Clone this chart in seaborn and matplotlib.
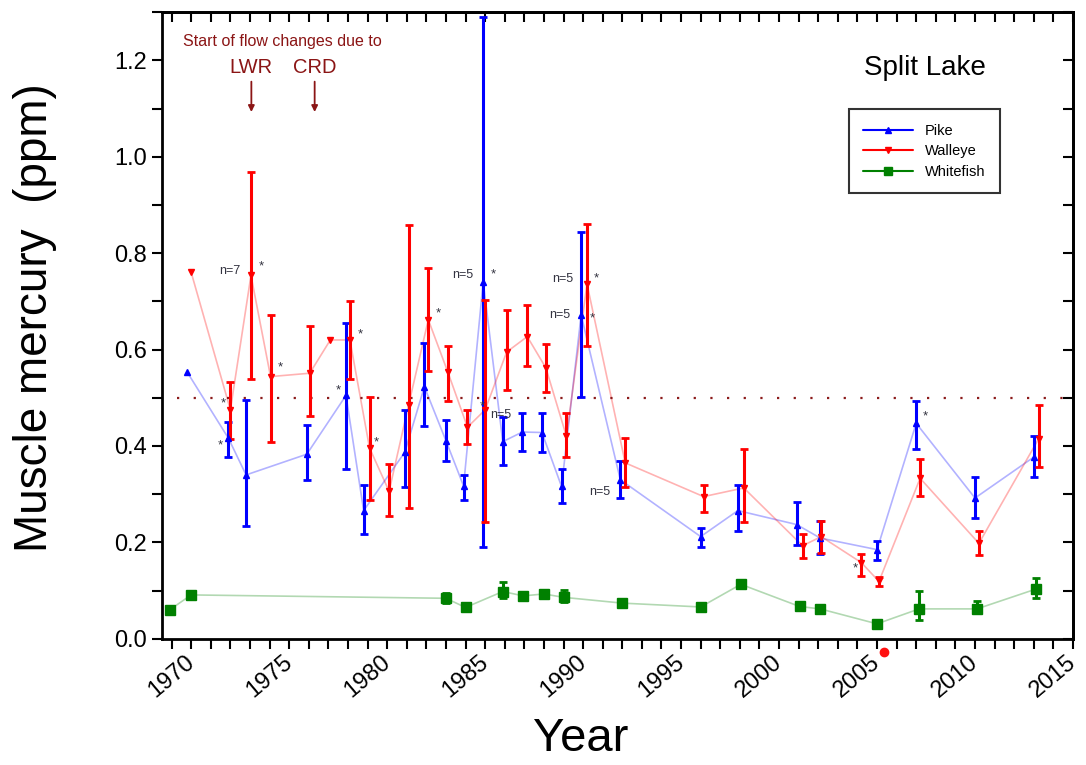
import numpy as np
import pandas as pd
import matplotlib
matplotlib.use('Agg')
import matplotlib.pyplot as plt
from matplotlib.lines import Line2D
from matplotlib.ticker import MultipleLocator
import seaborn as sns

sns.set_style("ticks", {"axes.edgecolor": "black", "text.color": "black",
                        "axes.labelcolor": "black", "xtick.color": "black",
                        "ytick.color": "black"})
plt.rcParams['font.family'] = ['Liberation Sans', 'DejaVu Sans']

# --- Data ---
pike_year = [1970.8, 1972.9, 1973.8, 1976.9, 1978.9, 1979.8, 1981.9, 1982.9, 1984.0, 1984.9,
             1985.9, 1986.9, 1987.9, 1988.9, 1989.9, 1990.9, 1992.9, 1997.0, 1998.9, 2001.9,
             2003.1, 2006.0, 2008.0, 2011.0, 2014.0]
pike_hg = [0.553, 0.416, 0.340, 0.383, 0.505, 0.266, 0.387, 0.523, 0.411, 0.317,
           0.741, 0.409, 0.429, 0.428, 0.316, 0.672, 0.330, 0.212, 0.266, 0.237,
           0.209, 0.185, 0.447, 0.292, 0.377]
pike_lo = [np.nan, 0.377, 0.233, 0.330, 0.352, 0.218, 0.314, 0.442, 0.368, 0.287,
           0.191, 0.361, 0.389, 0.387, 0.282, 0.501, 0.292, 0.190, 0.223, 0.195,
           0.176, 0.164, 0.393, 0.250, 0.335]
pike_hi = [np.nan, 0.449, 0.496, 0.443, 0.656, 0.320, 0.475, 0.613, 0.453, 0.340,
           1.290, 0.461, 0.468, 0.469, 0.352, 0.844, 0.368, 0.230, 0.320, 0.283,
           0.245, 0.202, 0.494, 0.335, 0.421]

walleye_year = [1971.0, 1973.0, 1974.05, 1975.05, 1977.05, 1978.1, 1979.1, 1980.1, 1981.1, 1982.1,
                1983.1, 1984.1, 1985.1, 1986.0, 1987.1, 1988.15, 1989.1, 1990.15, 1991.2, 1993.15,
                1997.15, 1999.2, 2002.2, 2003.15, 2005.2, 2006.1, 2008.2, 2011.2, 2014.25]
walleye_hg = [0.760, 0.475, 0.754, 0.544, 0.551, 0.620, 0.620, 0.396, 0.306, 0.486,
              0.662, 0.553, 0.439, 0.475, 0.595, 0.627, 0.562, 0.420, 0.736, 0.365,
              0.295, 0.313, 0.193, 0.212, 0.158, 0.119, 0.333, 0.198, 0.415]
walleye_lo = [np.nan, 0.415, 0.539, 0.409, 0.463, np.nan, 0.539, 0.287, 0.255, 0.271,
              0.555, 0.494, 0.404, 0.243, 0.517, 0.565, 0.511, 0.378, 0.608, 0.315,
              0.264, 0.243, 0.167, 0.178, 0.131, 0.110, 0.297, 0.174, 0.356]
walleye_hi = [np.nan, 0.533, 0.969, 0.672, 0.650, np.nan, 0.700, 0.501, 0.362, 0.859,
              0.769, 0.608, 0.475, 0.703, 0.683, 0.693, 0.612, 0.469, 0.860, 0.416,
              0.320, 0.394, 0.218, 0.245, 0.176, 0.128, 0.373, 0.223, 0.485]

white_year = [1969.9, 1971.0, 1984.0, 1985.0, 1986.9, 1987.95, 1989.0, 1990.0, 1993.0, 1997.0,
              1999.05, 2002.05, 2003.1, 2006.0, 2008.15, 2011.1, 2014.1]
white_hg = [0.060, 0.091, 0.084, 0.065, 0.098, 0.089, 0.093, 0.086, 0.074, 0.066,
            0.113, 0.067, 0.062, 0.031, 0.062, 0.062, 0.103]
white_lo = [np.nan, np.nan, 0.074, np.nan, 0.084, np.nan, 0.087, 0.077, np.nan, np.nan,
            np.nan, np.nan, 0.055, 0.025, 0.038, 0.055, 0.084]
white_hi = [np.nan, np.nan, 0.094, np.nan, 0.117, np.nan, 0.099, 0.102, np.nan, np.nan,
            np.nan, np.nan, 0.069, 0.037, 0.100, 0.079, 0.126]

# small labels next to points: (text, year, ppm)
notes = [("n=7", 1972.45, 0.764), ("*", 1974.45, 0.772), ("*", 1972.5, 0.489),
         ("*", 1972.35, 0.402), ("*", 1975.4, 0.563), ("*", 1978.4, 0.515),
         ("*", 1979.5, 0.632), ("*", 1980.3, 0.408), ("*", 1983.5, 0.676),
         ("n=5", 1984.3, 0.754), ("*", 1986.3, 0.755), ("*", 1985.7, 0.483),
         ("n=5", 1986.25, 0.465), ("n=5", 1989.4, 0.747), ("*", 1991.55, 0.748),
         ("n=5", 1989.25, 0.672), ("*", 1991.35, 0.665), ("n=5", 1991.3, 0.304),
         ("*", 2004.75, 0.145), ("*", 2008.35, 0.461)]

flow_events = ["LWR", "CRD"]
flow_years = [1974.07, 1977.3]
guideline = 0.5

series = [
    ("Pike", pike_year, pike_hg, pike_lo, pike_hi, "#0000ff", "^", 5),
    ("Walleye", walleye_year, walleye_hg, walleye_lo, walleye_hi, "#ff0000", "v", 5),
    ("Whitefish", white_year, white_hg, white_lo, white_hi, "#008000", "s", 7),
]

fig = plt.figure(figsize=(10.86, 7.65), dpi=100)
ax = fig.add_axes([0.149, 0.165, 0.839, 0.819])

for name, yr, hg, lo, hi, col, mk, ms in series:
    d = pd.DataFrame({"year": yr, "hg": hg, "lo": lo, "hi": hi})
    sns.lineplot(data=d, x="year", y="hg", color=col, alpha=0.3, lw=1.2,
                 sort=False, estimator=None, ax=ax)
    e = d.dropna()
    ax.errorbar(e["year"], e["hg"], yerr=[e["hg"] - e["lo"], e["hi"] - e["hg"]],
                fmt="none", ecolor=col, elinewidth=2.2, capsize=3, capthick=2, zorder=3)
    ax.plot(d["year"], d["hg"], ls="none", marker=mk, color=col, ms=ms, zorder=4)

ax.hlines(guideline, 1970.3, 2016, colors="#8b1a1a", linestyles=(0, (1, 6.5)), lw=1.6)

for txt, x, y in notes:
    ax.text(x, y, txt, fontsize=9 if txt != "*" else 9.5, color="#333340",
            ha="left", va="center")

# flow change annotation
ax.text(1970.6, 1.239, "Start of flow changes due to", fontsize=11.5, color="#8b1515",
        ha="left", va="center")
for lab, x in zip(flow_events, flow_years):
    ax.text(x, 1.185, lab, fontsize=14.5, color="#8b1515", ha="center", va="center")
    ax.annotate("", xy=(x, 1.093), xytext=(x, 1.156),
                arrowprops=dict(arrowstyle="-|>", color="#8b1515", lw=1.3,
                                mutation_scale=9, shrinkA=0, shrinkB=0))

ax.text(2008.45, 1.185, "Split Lake", fontsize=20, ha="center", va="center")

# red marker below the axis
ax.plot([2006.37], [-0.027], "o", color="#ff1010", ms=6, clip_on=False)

handles = [Line2D([], [], color=c, marker=m, ms=5 if m != "s" else 6, lw=1.5)
           for _, _, _, _, _, c, m, _ in series]
leg = ax.legend(handles, [s[0] for s in series], loc="upper left",
                bbox_to_anchor=(0.746, 0.857), fontsize=10.5, frameon=True,
                fancybox=False, edgecolor="black", borderpad=1.0, handlelength=3.4,
                labelspacing=0.45)
leg.get_frame().set_linewidth(1.5)

ax.set_xlim(1969.5, 2016)
ax.set_ylim(0, 1.3)
ax.xaxis.set_major_locator(MultipleLocator(5))
ax.xaxis.set_minor_locator(MultipleLocator(1))
ax.yaxis.set_major_locator(MultipleLocator(0.2))
ax.yaxis.set_minor_locator(MultipleLocator(0.1))
ax.yaxis.set_major_formatter(matplotlib.ticker.FormatStrFormatter('%.1f'))
ax.tick_params(which="both", direction="out", length=7, width=1.5, labelsize=17)
ax.tick_params(axis="x", pad=2)
plt.setp(ax.get_xticklabels(), rotation=40, ha="center")

top = ax.secondary_xaxis("top")
top.xaxis.set_major_locator(MultipleLocator(1))
top.tick_params(direction="in", length=7, width=1.5, labeltop=False)
right = ax.secondary_yaxis("right")
right.yaxis.set_major_locator(MultipleLocator(0.1))
right.tick_params(direction="in", length=7, width=1.5, labelright=False)

for sp in list(ax.spines.values()) + [top.spines["top"], right.spines["right"]]:
    sp.set_linewidth(2)

ax.set_xlabel("Year", fontsize=34)
ax.set_ylabel("Muscle mercury  (ppm)", fontsize=33)
ax.xaxis.set_label_coords(0.46, -0.125)
ax.yaxis.set_label_coords(-0.115, 0.512)

fig.savefig("out.png", dpi=100)
